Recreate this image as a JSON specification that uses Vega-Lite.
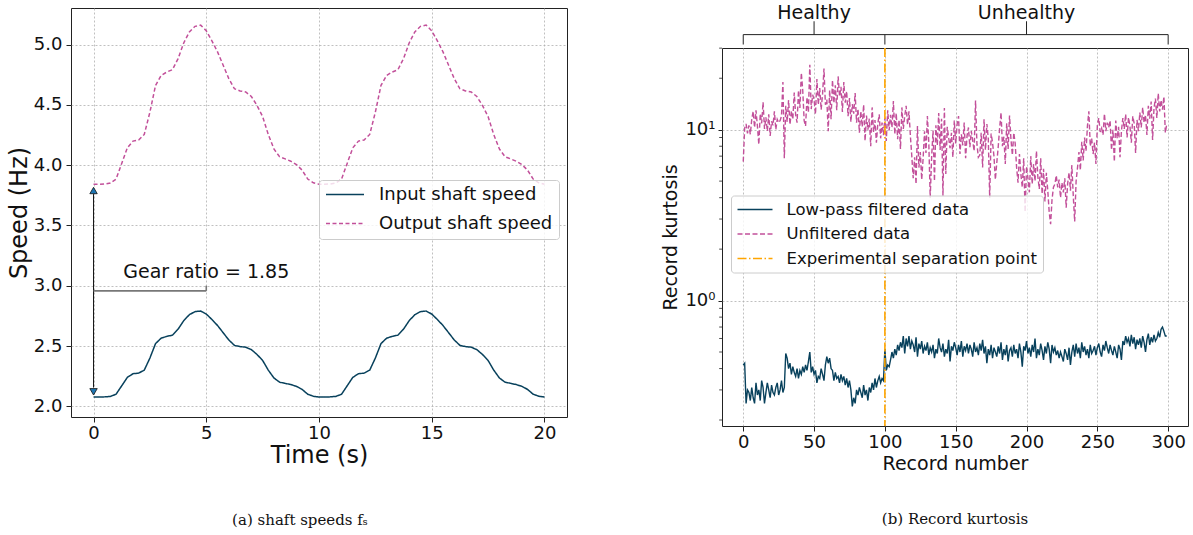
{
  "$schema": "https://vega.github.io/schema/vega-lite/v6.json",
  "background": "white",
  "padding": {"left": 6, "top": 0, "right": 0, "bottom": 0},
  "spacing": 93,
  "datasets": {
    "speed": [
      {"t":0,"i":2.077,"o":3.842},{"t":0.25,"i":2.077,"o":3.842},{"t":0.5,"i":2.078,"o":3.844},{"t":0.75,"i":2.082,"o":3.852},{"t":1,"i":2.1,"o":3.885},{"t":1.25,"i":2.17,"o":4.015},{"t":1.5,"i":2.24,"o":4.144},{"t":1.75,"i":2.27,"o":4.2},{"t":2,"i":2.275,"o":4.209},{"t":2.25,"i":2.3,"o":4.255},{"t":2.5,"i":2.4,"o":4.44},{"t":2.75,"i":2.52,"o":4.662},{"t":3,"i":2.565,"o":4.745},{"t":3.25,"i":2.58,"o":4.773},{"t":3.5,"i":2.59,"o":4.792},{"t":3.75,"i":2.64,"o":4.884},{"t":4,"i":2.71,"o":5.014},{"t":4.25,"i":2.76,"o":5.106},{"t":4.5,"i":2.785,"o":5.152},{"t":4.75,"i":2.79,"o":5.162},{"t":5,"i":2.765,"o":5.115},{"t":5.25,"i":2.72,"o":5.032},{"t":5.5,"i":2.67,"o":4.94},{"t":5.75,"i":2.61,"o":4.829},{"t":6,"i":2.55,"o":4.718},{"t":6.25,"i":2.505,"o":4.634},{"t":6.5,"i":2.495,"o":4.616},{"t":6.75,"i":2.49,"o":4.607},{"t":7,"i":2.47,"o":4.57},{"t":7.25,"i":2.43,"o":4.496},{"t":7.5,"i":2.38,"o":4.403},{"t":7.75,"i":2.3,"o":4.255},{"t":8,"i":2.235,"o":4.135},{"t":8.25,"i":2.2,"o":4.07},{"t":8.5,"i":2.19,"o":4.052},{"t":8.75,"i":2.18,"o":4.033},{"t":9,"i":2.165,"o":4.005},{"t":9.25,"i":2.14,"o":3.959},{"t":9.5,"i":2.1,"o":3.885},{"t":9.75,"i":2.083,"o":3.854},{"t":10,"i":2.077,"o":3.842},
      {"t":10.25,"i":2.077,"o":3.842},{"t":10.5,"i":2.078,"o":3.844},{"t":10.75,"i":2.082,"o":3.852},{"t":11,"i":2.1,"o":3.885},{"t":11.25,"i":2.17,"o":4.015},{"t":11.5,"i":2.24,"o":4.144},{"t":11.75,"i":2.27,"o":4.2},{"t":12,"i":2.275,"o":4.209},{"t":12.25,"i":2.3,"o":4.255},{"t":12.5,"i":2.4,"o":4.44},{"t":12.75,"i":2.52,"o":4.662},{"t":13,"i":2.565,"o":4.745},{"t":13.25,"i":2.58,"o":4.773},{"t":13.5,"i":2.59,"o":4.792},{"t":13.75,"i":2.64,"o":4.884},{"t":14,"i":2.71,"o":5.014},{"t":14.25,"i":2.76,"o":5.106},{"t":14.5,"i":2.785,"o":5.152},{"t":14.75,"i":2.79,"o":5.162},{"t":15,"i":2.765,"o":5.115},{"t":15.25,"i":2.72,"o":5.032},{"t":15.5,"i":2.67,"o":4.94},{"t":15.75,"i":2.61,"o":4.829},{"t":16,"i":2.55,"o":4.718},{"t":16.25,"i":2.505,"o":4.634},{"t":16.5,"i":2.495,"o":4.616},{"t":16.75,"i":2.49,"o":4.607},{"t":17,"i":2.47,"o":4.57},{"t":17.25,"i":2.43,"o":4.496},{"t":17.5,"i":2.38,"o":4.403},{"t":17.75,"i":2.3,"o":4.255},{"t":18,"i":2.235,"o":4.135},{"t":18.25,"i":2.2,"o":4.07},{"t":18.5,"i":2.19,"o":4.052},{"t":18.75,"i":2.18,"o":4.033},{"t":19,"i":2.165,"o":4.005},{"t":19.25,"i":2.14,"o":3.959},{"t":19.5,"i":2.1,"o":3.885},{"t":19.75,"i":2.083,"o":3.854},{"t":20,"i":2.077,"o":3.842}
    ],
    "gearLines": [
      {"a":0,"b":0,"c":2.155,"d":3.76,"g":"arrow"},
      {"a":0,"b":5,"c":2.957,"d":2.957,"g":"bracket"},
      {"a":5,"b":5,"c":2.957,"d":3.0,"g":"bracket"}
    ],
    "arrowHeads": [
      {"a":0,"c":3.79,"shape":"triangle-up"},
      {"a":0,"c":2.12,"shape":"triangle-down"}
    ],
    "gearLabel": [{"a":5,"c":3.066,"label":"Gear ratio = 1.85"}],
    "sepLine": [{"a":100,"s":"sep"}],
    "kurt": [
      {"r":0,"f":0.42,"u":6.5},{"r":1,"f":0.43,"u":10.2},{"r":2,"f":0.25,"u":10.8},{"r":3,"f":0.3,"u":9.5},{"r":4,"f":0.29,"u":10.6},{"r":5,"f":0.26,"u":9.4},{"r":6,"f":0.31,"u":11.5},{"r":7,"f":0.27,"u":12.8},{"r":8,"f":0.25,"u":10.3},{"r":9,"f":0.33,"u":13.0},
      {"r":10,"f":0.28,"u":10.5},{"r":11,"f":0.3,"u":8.2},{"r":12,"f":0.26,"u":12.4},{"r":13,"f":0.34,"u":10.9},{"r":14,"f":0.31,"u":14.5},{"r":15,"f":0.25,"u":10.1},{"r":16,"f":0.29,"u":11.8},{"r":17,"f":0.33,"u":9.8},{"r":18,"f":0.3,"u":12.3},{"r":19,"f":0.27,"u":9.2},
      {"r":20,"f":0.32,"u":11.2},{"r":21,"f":0.29,"u":10.6},{"r":22,"f":0.28,"u":12.8},{"r":23,"f":0.31,"u":10.0},{"r":24,"f":0.33,"u":11.5},{"r":25,"f":0.28,"u":11.0},{"r":26,"f":0.3,"u":11.3},{"r":27,"f":0.34,"u":12.0},{"r":28,"f":0.29,"u":19.0},{"r":29,"f":0.31,"u":6.8},
      {"r":30,"f":0.49,"u":13.8},{"r":31,"f":0.46,"u":11.1},{"r":32,"f":0.4,"u":14.9},{"r":33,"f":0.43,"u":10.7},{"r":34,"f":0.37,"u":12.9},{"r":35,"f":0.41,"u":11.5},{"r":36,"f":0.38,"u":16.5},{"r":37,"f":0.36,"u":12.2},{"r":38,"f":0.4,"u":11.0},{"r":39,"f":0.35,"u":17.0},
      {"r":40,"f":0.39,"u":13.4},{"r":41,"f":0.37,"u":21.5},{"r":42,"f":0.41,"u":17.0},{"r":43,"f":0.38,"u":11.3},{"r":44,"f":0.42,"u":10.5},{"r":45,"f":0.39,"u":15.5},{"r":46,"f":0.44,"u":12.6},{"r":47,"f":0.5,"u":24.0},{"r":48,"f":0.38,"u":13.2},{"r":49,"f":0.41,"u":16.0},
      {"r":50,"f":0.37,"u":15.0},{"r":51,"f":0.39,"u":12.3},{"r":52,"f":0.33,"u":19.8},{"r":53,"f":0.36,"u":14.0},{"r":54,"f":0.35,"u":17.5},{"r":55,"f":0.4,"u":13.1},{"r":56,"f":0.37,"u":16.2},{"r":57,"f":0.34,"u":22.8},{"r":58,"f":0.42,"u":14.0},{"r":59,"f":0.47,"u":15.0},
      {"r":60,"f":0.43,"u":9.8},{"r":61,"f":0.46,"u":17.0},{"r":62,"f":0.4,"u":11.5},{"r":63,"f":0.39,"u":19.5},{"r":64,"f":0.34,"u":14.3},{"r":65,"f":0.38,"u":18.2},{"r":66,"f":0.35,"u":13.0},{"r":67,"f":0.36,"u":20.5},{"r":68,"f":0.33,"u":15.6},{"r":69,"f":0.37,"u":17.8},
      {"r":70,"f":0.34,"u":12.7},{"r":71,"f":0.36,"u":19.0},{"r":72,"f":0.32,"u":14.4},{"r":73,"f":0.35,"u":16.8},{"r":74,"f":0.31,"u":12.0},{"r":75,"f":0.34,"u":15.3},{"r":76,"f":0.3,"u":11.1},{"r":77,"f":0.24,"u":14.1},{"r":78,"f":0.27,"u":12.4},{"r":79,"f":0.25,"u":16.4},
      {"r":80,"f":0.3,"u":11.0},{"r":81,"f":0.28,"u":13.2},{"r":82,"f":0.31,"u":9.6},{"r":83,"f":0.29,"u":12.8},{"r":84,"f":0.27,"u":10.4},{"r":85,"f":0.32,"u":14.0},{"r":86,"f":0.28,"u":8.6},{"r":87,"f":0.3,"u":12.1},{"r":88,"f":0.26,"u":10.0},{"r":89,"f":0.31,"u":11.6},
      {"r":90,"f":0.29,"u":8.0},{"r":91,"f":0.33,"u":13.5},{"r":92,"f":0.3,"u":9.7},{"r":93,"f":0.35,"u":11.4},{"r":94,"f":0.31,"u":8.4},{"r":95,"f":0.34,"u":10.8},{"r":96,"f":0.36,"u":12.3},{"r":97,"f":0.33,"u":8.9},{"r":98,"f":0.35,"u":11.0},{"r":99,"f":0.34,"u":9.3},
      {"r":100,"f":0.52,"u":11.7},{"r":101,"f":0.39,"u":8.6},{"r":102,"f":0.42,"u":13.0},{"r":103,"f":0.41,"u":9.9},{"r":104,"f":0.45,"u":12.2},{"r":105,"f":0.5,"u":10.3},{"r":106,"f":0.46,"u":14.7},{"r":107,"f":0.52,"u":9.4},{"r":108,"f":0.48,"u":12.5},{"r":109,"f":0.55,"u":8.8},
      {"r":110,"f":0.51,"u":11.4},{"r":111,"f":0.57,"u":7.7},{"r":112,"f":0.53,"u":13.5},{"r":113,"f":0.62,"u":10.1},{"r":114,"f":0.49,"u":12.0},{"r":115,"f":0.6,"u":13.8},{"r":116,"f":0.54,"u":10.7},{"r":117,"f":0.62,"u":12.8},{"r":118,"f":0.52,"u":9.2},{"r":119,"f":0.58,"u":7.0},
      {"r":120,"f":0.55,"u":5.2},{"r":121,"f":0.5,"u":6.9},{"r":122,"f":0.61,"u":4.8},{"r":123,"f":0.47,"u":10.5},{"r":124,"f":0.56,"u":6.0},{"r":125,"f":0.52,"u":7.4},{"r":126,"f":0.58,"u":5.1},{"r":127,"f":0.49,"u":6.8},{"r":128,"f":0.54,"u":9.8},{"r":129,"f":0.51,"u":7.3},
      {"r":130,"f":0.57,"u":12.0},{"r":131,"f":0.48,"u":8.4},{"r":132,"f":0.53,"u":4.0},{"r":133,"f":0.5,"u":6.9},{"r":134,"f":0.55,"u":9.9},{"r":135,"f":0.46,"u":5.0},{"r":136,"f":0.52,"u":10.6},{"r":137,"f":0.49,"u":8.1},{"r":138,"f":0.6,"u":12.5},{"r":139,"f":0.53,"u":7.6},
      {"r":140,"f":0.5,"u":11.6},{"r":141,"f":0.56,"u":4.1},{"r":142,"f":0.47,"u":13.4},{"r":143,"f":0.52,"u":5.5},{"r":144,"f":0.49,"u":10.4},{"r":145,"f":0.59,"u":9.0},{"r":146,"f":0.44,"u":7.8},{"r":147,"f":0.54,"u":9.6},{"r":148,"f":0.51,"u":6.9},{"r":149,"f":0.57,"u":11.3},
      {"r":150,"f":0.53,"u":8.3},{"r":151,"f":0.48,"u":10.8},{"r":152,"f":0.55,"u":12.0},{"r":153,"f":0.5,"u":7.2},{"r":154,"f":0.58,"u":9.4},{"r":155,"f":0.47,"u":8.1},{"r":156,"f":0.54,"u":11.0},{"r":157,"f":0.51,"u":6.8},{"r":158,"f":0.56,"u":9.2},{"r":159,"f":0.49,"u":10.3},
      {"r":160,"f":0.55,"u":7.9},{"r":161,"f":0.52,"u":9.8},{"r":162,"f":0.47,"u":8.6},{"r":163,"f":0.57,"u":7.5},{"r":164,"f":0.5,"u":14.8},{"r":165,"f":0.53,"u":8.2},{"r":166,"f":0.48,"u":6.9},{"r":167,"f":0.56,"u":7.1},{"r":168,"f":0.51,"u":9.6},{"r":169,"f":0.59,"u":6.0},
      {"r":170,"f":0.49,"u":11.5},{"r":171,"f":0.54,"u":7.6},{"r":172,"f":0.43,"u":10.8},{"r":173,"f":0.52,"u":8.9},{"r":174,"f":0.48,"u":4.0},{"r":175,"f":0.55,"u":9.5},{"r":176,"f":0.46,"u":8.4},{"r":177,"f":0.53,"u":7.0},{"r":178,"f":0.5,"u":5.1},{"r":179,"f":0.47,"u":6.4},
      {"r":180,"f":0.54,"u":7.9},{"r":181,"f":0.49,"u":10.2},{"r":182,"f":0.57,"u":12.6},{"r":183,"f":0.45,"u":8.0},{"r":184,"f":0.52,"u":9.1},{"r":185,"f":0.48,"u":6.3},{"r":186,"f":0.55,"u":10.9},{"r":187,"f":0.44,"u":7.7},{"r":188,"f":0.51,"u":12.1},{"r":189,"f":0.53,"u":8.8},
      {"r":190,"f":0.47,"u":7.1},{"r":191,"f":0.55,"u":9.6},{"r":192,"f":0.49,"u":8.3},{"r":193,"f":0.52,"u":6.0},{"r":194,"f":0.46,"u":4.9},{"r":195,"f":0.56,"u":7.2},{"r":196,"f":0.5,"u":5.5},{"r":197,"f":0.41,"u":4.6},{"r":198,"f":0.54,"u":6.8},{"r":199,"f":0.51,"u":3.3},
      {"r":200,"f":0.58,"u":6.1},{"r":201,"f":0.49,"u":5.2},{"r":202,"f":0.53,"u":4.3},{"r":203,"f":0.47,"u":7.0},{"r":204,"f":0.55,"u":4.8},{"r":205,"f":0.5,"u":6.3},{"r":206,"f":0.6,"u":5.0},{"r":207,"f":0.46,"u":7.5},{"r":208,"f":0.52,"u":5.3},{"r":209,"f":0.48,"u":4.5},
      {"r":210,"f":0.56,"u":6.8},{"r":211,"f":0.51,"u":4.2},{"r":212,"f":0.45,"u":5.9},{"r":213,"f":0.54,"u":3.8},{"r":214,"f":0.49,"u":5.6},{"r":215,"f":0.57,"u":4.4},{"r":216,"f":0.52,"u":3.3},{"r":217,"f":0.43,"u":2.8},{"r":218,"f":0.55,"u":3.9},{"r":219,"f":0.5,"u":4.6},
      {"r":220,"f":0.53,"u":4.8},{"r":221,"f":0.48,"u":5.4},{"r":222,"f":0.51,"u":4.6},{"r":223,"f":0.46,"u":5.1},{"r":224,"f":0.5,"u":4.0},{"r":225,"f":0.47,"u":4.9},{"r":226,"f":0.44,"u":4.3},{"r":227,"f":0.52,"u":5.2},{"r":228,"f":0.49,"u":3.5},{"r":229,"f":0.45,"u":4.8},
      {"r":230,"f":0.53,"u":5.6},{"r":231,"f":0.42,"u":4.4},{"r":232,"f":0.5,"u":6.2},{"r":233,"f":0.55,"u":4.1},{"r":234,"f":0.47,"u":2.9},{"r":235,"f":0.56,"u":5.0},{"r":236,"f":0.49,"u":6.0},{"r":237,"f":0.53,"u":7.4},{"r":238,"f":0.46,"u":5.8},{"r":239,"f":0.57,"u":8.5},
      {"r":240,"f":0.5,"u":6.6},{"r":241,"f":0.54,"u":9.0},{"r":242,"f":0.48,"u":7.5},{"r":243,"f":0.52,"u":10.5},{"r":244,"f":0.46,"u":12.8},{"r":245,"f":0.55,"u":8.0},{"r":246,"f":0.49,"u":8.9},{"r":247,"f":0.51,"u":7.2},{"r":248,"f":0.54,"u":8.4},{"r":249,"f":0.48,"u":6.3},
      {"r":250,"f":0.53,"u":10.6},{"r":251,"f":0.56,"u":11.7},{"r":252,"f":0.5,"u":9.7},{"r":253,"f":0.47,"u":10.2},{"r":254,"f":0.55,"u":9.3},{"r":255,"f":0.51,"u":12.4},{"r":256,"f":0.58,"u":9.8},{"r":257,"f":0.53,"u":11.0},{"r":258,"f":0.49,"u":10.3},{"r":259,"f":0.55,"u":11.3},
      {"r":260,"f":0.51,"u":7.6},{"r":261,"f":0.48,"u":10.0},{"r":262,"f":0.54,"u":6.5},{"r":263,"f":0.5,"u":11.3},{"r":264,"f":0.46,"u":8.9},{"r":265,"f":0.55,"u":10.4},{"r":266,"f":0.52,"u":6.9},{"r":267,"f":0.45,"u":9.8},{"r":268,"f":0.58,"u":11.7},{"r":269,"f":0.55,"u":10.1},
      {"r":270,"f":0.62,"u":12.3},{"r":271,"f":0.57,"u":9.0},{"r":272,"f":0.6,"u":11.8},{"r":273,"f":0.54,"u":10.5},{"r":274,"f":0.63,"u":8.4},{"r":275,"f":0.56,"u":12.0},{"r":276,"f":0.61,"u":10.9},{"r":277,"f":0.52,"u":7.3},{"r":278,"f":0.59,"u":11.4},{"r":279,"f":0.55,"u":9.8},
      {"r":280,"f":0.6,"u":12.6},{"r":281,"f":0.53,"u":10.3},{"r":282,"f":0.62,"u":13.5},{"r":283,"f":0.57,"u":11.0},{"r":284,"f":0.5,"u":12.2},{"r":285,"f":0.59,"u":9.3},{"r":286,"f":0.64,"u":13.8},{"r":287,"f":0.55,"u":11.6},{"r":288,"f":0.61,"u":14.6},{"r":289,"f":0.57,"u":8.7},
      {"r":290,"f":0.63,"u":13.4},{"r":291,"f":0.58,"u":15.2},{"r":292,"f":0.6,"u":11.7},{"r":293,"f":0.65,"u":16.3},{"r":294,"f":0.61,"u":12.8},{"r":295,"f":0.68,"u":14.9},{"r":296,"f":0.7,"u":13.1},{"r":297,"f":0.66,"u":15.6},{"r":298,"f":0.62,"u":9.6},{"r":299,"f":0.62,"u":10.8}
    ],
    "brackets": [
      {"a":0,"b":300,"c":36.0,"d":36.0},
      {"a":0,"b":0,"c":36.0,"d":31.5},
      {"a":100,"b":100,"c":36.0,"d":31.5},
      {"a":300,"b":300,"c":36.0,"d":31.5},
      {"a":50,"b":50,"c":36.0,"d":43.1},
      {"a":200,"b":200,"c":36.0,"d":43.1}
    ],
    "bracketLabels": [
      {"a":50,"c":44.7,"label":"Healthy"},
      {"a":200,"c":44.7,"label":"Unhealthy"}
    ],
    "minorTicks": [
      {"m":0.2},{"m":0.3},{"m":0.4},{"m":0.5},{"m":0.6},{"m":0.7},{"m":0.8},{"m":0.9},
      {"m":2},{"m":3},{"m":4},{"m":5},{"m":6},{"m":7},{"m":8},{"m":9},{"m":20},{"m":30}
    ]
  },
  "hconcat": [
    {
      "spacing": 0,
      "resolve": {"scale": {"color": "independent", "strokeDash": "independent"}, "legend": {"color": "independent", "strokeDash": "independent"}},
      "vconcat": [
        {"width": 496, "height": 6.5, "data": {"values": []}, "mark": "point", "encoding": {}, "view": {"stroke": null}},
    {
      "width": 496,
      "height": 409,
      "title": {"text": "(a) shaft speeds fₛ", "orient": "bottom", "frame": "group", "anchor": "middle", "dx": -19, "offset": 46, "font": "DejaVu Serif", "fontSize": 15, "fontWeight": "normal", "color": "#111111"},
      "layer": [
        {
          "data": {"name": "speed"},
          "transform": [{"fold": ["i", "o"], "as": ["s", "v"]}],
          "mark": {"type": "line", "strokeWidth": 1.5},
          "encoding": {
            "x": {"field": "t", "type": "quantitative", "scale": {"domain": [-1, 21], "nice": false, "zero": false},
                  "axis": {"values": [0, 5, 10, 15, 20], "title": "Time (s)", "titleFontSize": 24, "labelPadding": 2, "titlePadding": 1, "grid": true}},
            "y": {"field": "v", "type": "quantitative", "scale": {"domain": [1.911, 5.304], "nice": false, "zero": false},
                  "axis": {"values": [2, 2.5, 3, 3.5, 4, 4.5, 5], "format": ".1f", "title": "Speed (Hz)", "titleFontSize": 24, "labelPadding": 4, "titlePadding": 2, "grid": true}},
            "color": {"field": "s", "type": "nominal", "scale": {"domain": ["i", "o"], "range": ["#08415c", "#c2509a"]},
                      "legend": {"orient": "none", "legendX": 248, "legendY": 172, "title": null, "symbolType": "stroke", "symbolSize": 1444, "symbolStrokeWidth": 1.5, "labelFontSize": 18, "labelOffset": 14, "labelLimit": 400, "padding": 6, "rowPadding": 10, "clipHeight": 17, "fillColor": "rgba(255,255,255,0.8)", "strokeColor": "#cccccc", "cornerRadius": 3, "labelFont": "DejaVu Sans", "labelColor": "#111111", "labelExpr": "datum.label == 'i' ? 'Input shaft speed' : 'Output shaft speed'"}},
            "strokeDash": {"field": "s", "type": "nominal", "scale": {"domain": ["i", "o"], "range": [[1, 0], [4, 2.5]]},
                      "legend": {"orient": "none", "legendX": 248, "legendY": 172, "title": null, "symbolType": "stroke", "symbolSize": 1444, "symbolStrokeWidth": 1.5, "labelFontSize": 18, "labelOffset": 14, "labelLimit": 400, "padding": 6, "rowPadding": 10, "clipHeight": 17, "fillColor": "rgba(255,255,255,0.8)", "strokeColor": "#cccccc", "cornerRadius": 3, "labelFont": "DejaVu Sans", "labelColor": "#111111", "labelExpr": "datum.label == 'i' ? 'Input shaft speed' : 'Output shaft speed'"}}
          }
        },
        {
          "data": {"name": "gearLines"},
          "mark": {"type": "rule"},
          "encoding": {
            "x": {"field": "a", "type": "quantitative"},
            "x2": {"field": "b"},
            "y": {"field": "c", "type": "quantitative"},
            "y2": {"field": "d"},
            "stroke": {"field": "g", "type": "nominal", "scale": {"domain": ["arrow", "bracket"], "range": ["#111111", "#777777"]}, "legend": null},
            "strokeWidth": {"field": "g", "type": "nominal", "scale": {"domain": ["arrow", "bracket"], "range": [1, 1.6]}, "legend": null}
          }
        },
        {
          "data": {"name": "arrowHeads"},
          "mark": {"type": "point", "filled": true, "fill": "#1f77b4", "stroke": "#111111", "strokeWidth": 0.8, "size": 55, "opacity": 1},
          "encoding": {
            "x": {"field": "a", "type": "quantitative"},
            "y": {"field": "c", "type": "quantitative"},
            "shape": {"field": "shape", "type": "nominal", "scale": null}
          }
        },
        {
          "data": {"name": "gearLabel"},
          "mark": {"type": "text", "fontSize": 19, "font": "DejaVu Sans", "align": "center", "baseline": "alphabetic", "color": "#111111"},
          "encoding": {"x": {"field": "a", "type": "quantitative"}, "y": {"field": "c", "type": "quantitative"}, "text": {"field": "label", "type": "nominal"}}
        }
      ]
    }]},
    {
      "spacing": 0,
      "resolve": {"scale": {"color": "independent", "strokeDash": "independent"}, "legend": {"color": "independent", "strokeDash": "independent"}},
      "vconcat": [
        {"width": 466, "height": 2.2, "data": {"values": []}, "mark": "point", "encoding": {}, "view": {"stroke": null}},
    {
      "width": 466,
      "height": 378,
      "title": {"text": "(b) Record kurtosis", "orient": "bottom", "frame": "group", "anchor": "middle", "dx": 0, "offset": 39, "font": "DejaVu Serif", "fontSize": 15, "fontWeight": "normal", "color": "#111111"},
      "layer": [
        {
          "data": {"name": "kurt"},
          "transform": [{"fold": ["f", "u"], "as": ["s", "k"]}],
          "mark": {"type": "line", "strokeWidth": 1.4},
          "encoding": {
            "x": {"field": "r", "type": "quantitative", "scale": {"domain": [-15, 314], "nice": false, "zero": false},
                  "axis": {"values": [0, 50, 100, 150, 200, 250, 300], "title": "Record number", "titleFontSize": 19, "labelPadding": 2, "titlePadding": 3, "grid": true}},
            "y": {"field": "k", "type": "quantitative", "scale": {"type": "log", "domain": [0.1845, 30.06], "nice": false},
                  "axis": {"values": [1, 10], "labelExpr": "datum.value > 5 ? '10¹' : '10⁰'", "title": "Record kurtosis", "titleFontSize": 19, "labelPadding": 3, "titlePadding": 4, "tickSize": 4, "grid": true}},
            "color": {"field": "s", "type": "nominal", "scale": {"domain": ["f", "u", "sep"], "range": ["#08415c", "#c2509a", "#ffa500"]},
                      "legend": {"orient": "none", "legendX": 9, "legendY": 147.5, "title": null, "symbolType": "stroke", "symbolSize": 1225, "symbolStrokeWidth": 1.5, "labelFontSize": 16.5, "labelOffset": 13, "labelLimit": 400, "padding": 5.5, "rowPadding": 7.5, "clipHeight": 17, "fillColor": "rgba(255,255,255,0.8)", "strokeColor": "#cccccc", "cornerRadius": 3, "labelFont": "DejaVu Sans", "labelColor": "#111111", "labelExpr": "datum.label == 'f' ? 'Low-pass filtered data' : datum.label == 'u' ? 'Unfiltered data' : 'Experimental separation point'"}},
            "strokeDash": {"field": "s", "type": "nominal", "scale": {"domain": ["f", "u", "sep"], "range": [[1, 0], [5, 2.5], [9, 2.5, 1.5, 2.5]]},
                      "legend": {"orient": "none", "legendX": 9, "legendY": 147.5, "title": null, "symbolType": "stroke", "symbolSize": 1225, "symbolStrokeWidth": 1.5, "labelFontSize": 16.5, "labelOffset": 13, "labelLimit": 400, "padding": 5.5, "rowPadding": 7.5, "clipHeight": 17, "fillColor": "rgba(255,255,255,0.8)", "strokeColor": "#cccccc", "cornerRadius": 3, "labelFont": "DejaVu Sans", "labelColor": "#111111", "labelExpr": "datum.label == 'f' ? 'Low-pass filtered data' : datum.label == 'u' ? 'Unfiltered data' : 'Experimental separation point'"}}
          }
        },
        {
          "data": {"name": "sepLine"},
          "mark": {"type": "rule", "strokeWidth": 1.6},
          "encoding": {
            "x": {"field": "a", "type": "quantitative"},
            "color": {"field": "s", "type": "nominal"},
            "strokeDash": {"field": "s", "type": "nominal"}
          }
        },
        {
          "data": {"name": "brackets"},
          "mark": {"type": "rule", "color": "#222222", "strokeWidth": 1},
          "encoding": {
            "x": {"field": "a", "type": "quantitative"},
            "x2": {"field": "b"},
            "y": {"field": "c", "type": "quantitative"},
            "y2": {"field": "d"}
          }
        },
        {
          "data": {"name": "bracketLabels"},
          "mark": {"type": "text", "fontSize": 19, "font": "DejaVu Sans", "align": "center", "baseline": "alphabetic", "color": "#111111"},
          "encoding": {
            "x": {"field": "a", "type": "quantitative"},
            "y": {"field": "c", "type": "quantitative"},
            "text": {"field": "label", "type": "nominal"}
          }
        },
        {
          "data": {"name": "minorTicks"},
          "mark": {"type": "rule", "color": "#222222", "strokeWidth": 0.8},
          "encoding": {
            "x": {"datum": -15},
            "x2": {"datum": -17},
            "y": {"field": "m", "type": "quantitative"}
          }
        }
      ]
    }]}
  ],
  "resolve": {"scale": {"color": "independent", "strokeDash": "independent", "x": "independent", "y": "independent"}},
  "config": {
    "font": "DejaVu Sans",
    "view": {"stroke": "#222222", "strokeWidth": 1},
    "axis": {"domain": false, "tickColor": "#222222", "tickSize": 5, "labelColor": "#111111", "titleColor": "#111111", "labelFont": "DejaVu Sans", "titleFont": "DejaVu Sans", "titleFontWeight": "normal", "gridColor": "#b0b0b0", "gridDash": [2, 2], "gridWidth": 0.8, "labelFontSize": 18}
  }
}
